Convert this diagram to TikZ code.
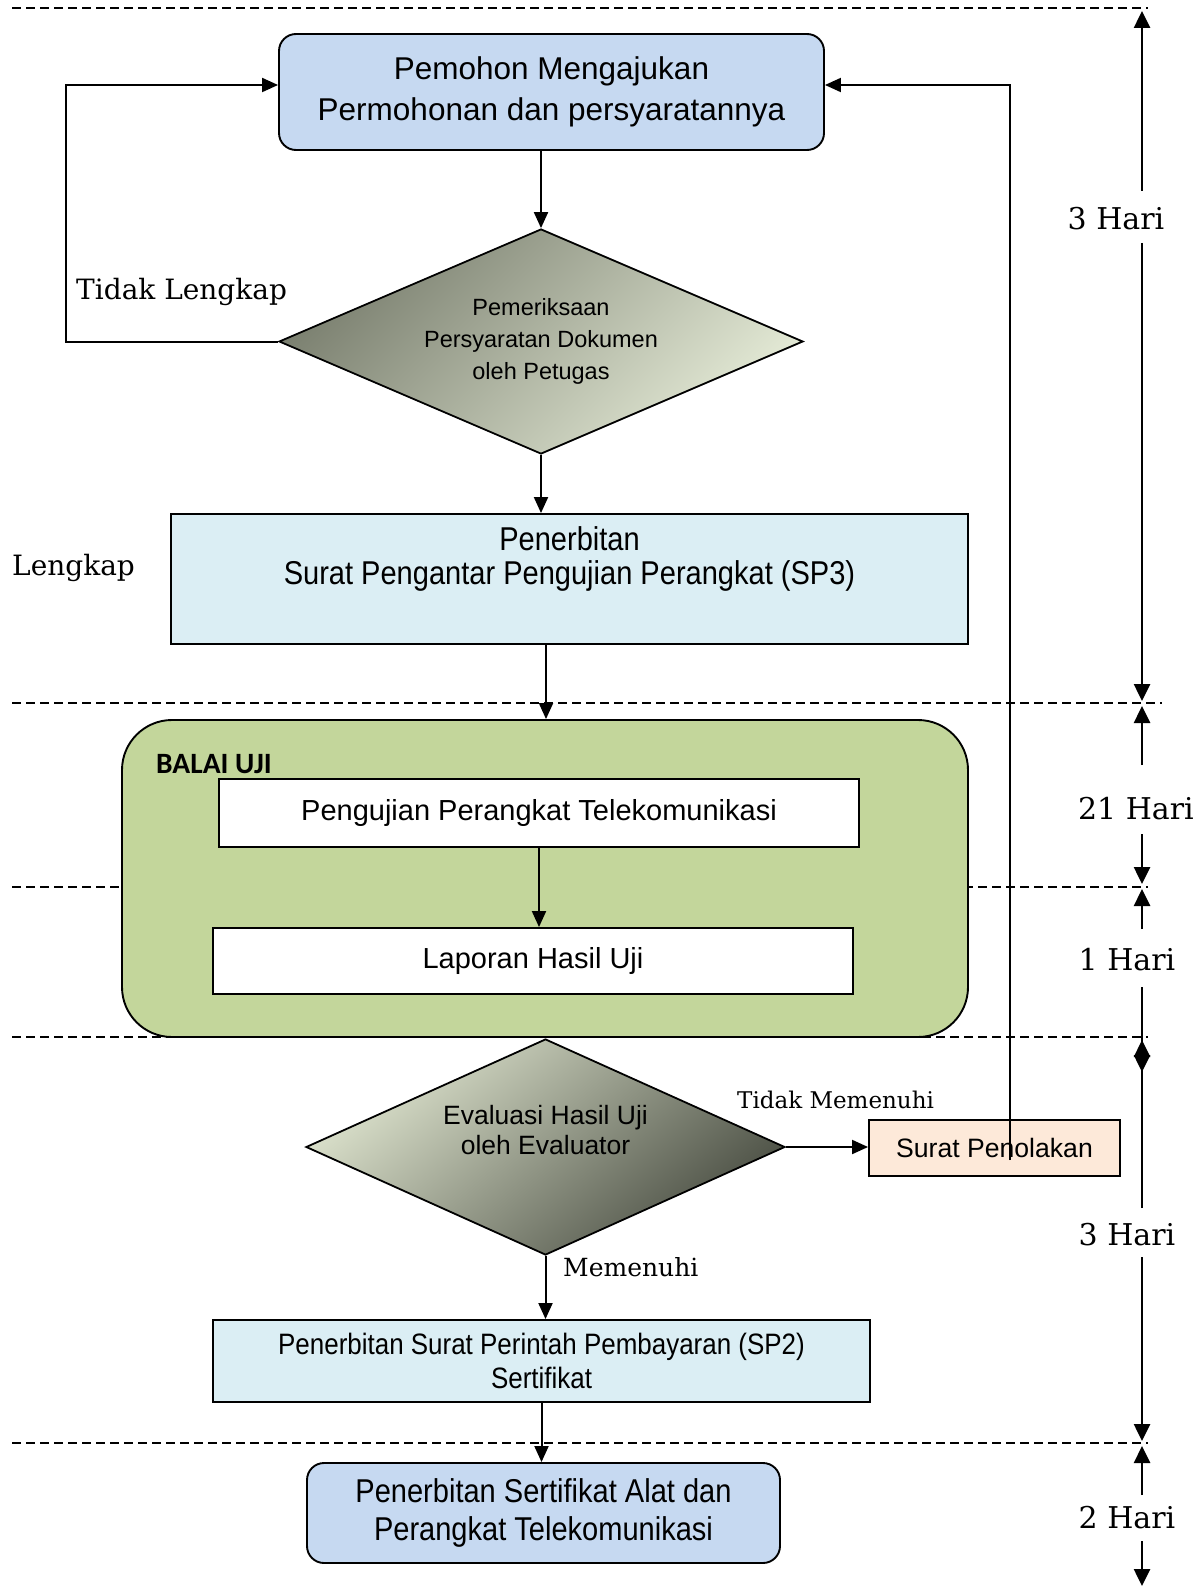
\documentclass[tikz,border=0pt]{standalone}
\usepackage{fontspec}
\setmainfont{Liberation Sans}
\newfontfamily\condfont[FakeStretch=0.88]{Liberation Sans}
\newfontfamily\harifont{DejaVu Serif}
\newfontfamily\balaifont{Carlito}
\usetikzlibrary{shapes.geometric,arrows.meta,positioning}

\tikzset{
    arr/.style={-{Triangle[width=14pt,length=16pt]}, line width=2pt},
    durarr/.style={-{Triangle[width=16pt,length=17pt]}, line width=2.6pt},
    sepline/.style={dash pattern=on 9pt off 5pt, line width=1.5pt},
    procbox/.style={draw, line width=1.9pt, inner sep=0pt, align=center},
    termbox/.style={procbox, rounded corners=17pt},
    decbox/.style={diamond, draw, line width=1.8pt, inner sep=0pt, align=center, aspect=2.3},
    lbl/.style={anchor=base west, inner sep=0pt, font=\harifont\fontsize{28}{30}\selectfont},
    hari/.style={anchor=base, inner sep=0pt, font=\harifont\fontsize{30}{32}\selectfont}
}

\begin{document}
\begin{tikzpicture}[x=1pt, y=-1pt]
    \definecolor{req_blue}{HTML}{C6D9F1}
    \definecolor{doc_cyan}{HTML}{DBEEF4}
    \definecolor{lab_green}{HTML}{C3D69B}
    \definecolor{rej_peach}{HTML}{FDE9D9}
    \definecolor{chk_dark}{HTML}{7A7F6F}
    \definecolor{chk_light}{HTML}{E4EAD6}
    \definecolor{eval_light}{HTML}{DFE5CF}
    \definecolor{eval_dark}{HTML}{4A4E43}
    %\draw[help lines] (0,0) grid (1201,1589);
    \useasboundingbox (0,0) rectangle (1201,1589);

    % time separators
    \draw[sepline] (12,8) -- (1148,8);
    \draw[sepline] (12,703) -- (1162,703);
    \draw[sepline] (12,887) -- (1148,887);
    \draw[sepline] (12,1037) -- (1148,1037);
    \draw[sepline] (12,1443) -- (1148,1443);

    \node[termbox, fill=req_blue, minimum width=545pt, minimum height=116pt,
        font=\fontsize{31.5}{41.5}\selectfont] (top) at (551.5,92)
        {Pemohon Mengajukan\\Permohonan dan persyaratannya};
    \node[decbox, top color=chk_dark, bottom color=chk_light, shading angle=45,
        minimum width=524pt, minimum height=225pt,
        font=\fontsize{23.5}{32}\selectfont] (chk) at (541,341.5)
        {Pemeriksaan\\Persyaratan Dokumen\\oleh Petugas};
    \node[procbox, fill=doc_cyan, minimum width=797pt, minimum height=130pt,
        label={[font=\condfont\fontsize{33}{33.4}\selectfont, align=center, yshift=20pt]center:Penerbitan\\Surat Pengantar Pengujian Perangkat (SP3)}]
        (sp3) at (569.5,579) {};

    \node[draw, line width=1.9pt, fill=lab_green, rounded corners=50pt,
        minimum width=846pt, minimum height=317pt] (balai) at (545,878.5) {};
    \node[anchor=base west, inner sep=0pt, font=\balaifont\bfseries\fontsize{29.5}{31}\selectfont]
        (balaitxt) at (156,773) {BALAI UJI};
    \node[procbox, fill=white, minimum width=640pt, minimum height=68pt,
        font=\fontsize{29}{32}\selectfont] (uji) at (539,813)
        {\raisebox{5pt}{Pengujian Perangkat Telekomunikasi}};
    \node[procbox, fill=white, minimum width=640pt, minimum height=66pt,
        font=\fontsize{29}{32}\selectfont] (lap) at (533,961)
        {\raisebox{4pt}{Laporan Hasil Uji}};

    \node[decbox, top color=eval_light, bottom color=eval_dark, shading angle=40,
        minimum width=479pt, minimum height=216pt,
        label={[font=\fontsize{26.5}{30.5}\selectfont, align=center, yshift=17pt]center:Evaluasi Hasil Uji\\oleh Evaluator}]
        (eval) at (545.5,1147) {};
    \node[procbox, fill=rej_peach, minimum width=251pt, minimum height=56pt,
        font=\fontsize{26.6}{30}\selectfont] (tolak) at (994.5,1148) {Surat Penolakan};
    \node[procbox, fill=doc_cyan, minimum width=657pt, minimum height=82pt,
        font=\condfont\fontsize{29.5}{34.5}\selectfont] (sp2) at (541.5,1361)
        {Penerbitan Surat Perintah Pembayaran (SP2)\\Sertifikat};
    \node[termbox, fill=req_blue, minimum width=473pt, minimum height=100pt,
        font=\condfont\fontsize{33}{38.5}\selectfont] (final) at (543.5,1513)
        {Penerbitan Sertifikat Alat dan\\Perangkat Telekomunikasi};

    % branch labels
    \node[lbl] (tl) at (76,299) {Tidak Lengkap};
    \node[lbl] (lk) at (12,575) {Lengkap};
    \node[lbl, font=\harifont\fontsize{23}{25}\selectfont] (tm) at (737,1108) {Tidak Memenuhi};
    \node[lbl, font=\harifont\fontsize{25}{27}\selectfont] (mm) at (563,1276) {Memenuhi};

    % flow
    \draw[arr] (chk.north |- top.south) -- (chk.north);
    \draw[arr] (chk.south) -- (chk.south |- sp3.north);
    \draw[arr] ([xshift=-23.5pt]sp3.south) -- ([xshift=-23.5pt]sp3.south |- balai.north);
    \draw[arr] (uji.south) -- (uji.south |- lap.north);
    \draw[arr] (eval.east) -- (eval.east -| tolak.west);
    \draw[arr] (eval.south) -- (eval.south |- sp2.north);
    \draw[arr] (sp2.south) -- (sp2.south |- final.north);

    \coordinate (lcorner) at (66,341.5);
    \draw[arr] (chk.west) -- (lcorner) |- ([yshift=7pt]top.west);
    \coordinate (back) at (1010,1160);
    \draw[arr] (back) |- ([yshift=7pt]top.east);

    % durations
    \node[hari] (h1) at (1116,230) {3 Hari};
    \node[hari] (h2) at (1136,819) {21 Hari};
    \node[hari] (h3) at (1127,970) {1 Hari};
    \node[hari] (h4) at (1127,1245) {3 Hari};
    \node[hari] (h5) at (1127,1528) {2 Hari};

    \draw[durarr] (1142,191) -- (1142,11);
    \draw[durarr] (1142,243) -- (1142,701);
    \draw[durarr] (1142,765) -- (1142,706);
    \draw[durarr] (1142,834) -- (1142,884);
    \draw[durarr] (1142,929) -- (1142,889);
    \draw[durarr] (1142,987) -- (1142,1072);
    \draw[durarr] (1142,1208) -- (1142,1040);
    \draw[durarr] (1142,1257) -- (1142,1441);
    \draw[durarr] (1142,1495) -- (1142,1446);
    \draw[durarr] (1142,1541) -- (1142,1586);

\end{tikzpicture}
\end{document}
